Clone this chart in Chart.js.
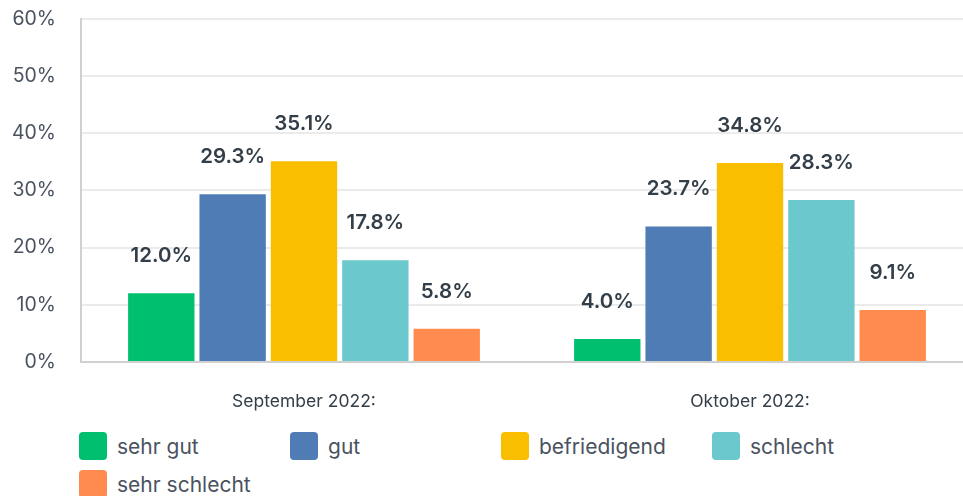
<!DOCTYPE html>
<html>
<head>
<meta charset="utf-8">
<script src="https://cdn.jsdelivr.net/npm/chart.js@4"></script>
<style>
  body { margin: 0; background: #fff; font-family: Inter, sans-serif; overflow: hidden; }
  #wrap { width: 973px; height: 440px; position: relative; margin-top: -18px; }
  #legende {
    display: grid;
    grid-template-columns: repeat(4, 211px);
    row-gap: 10px;
    padding-left: 79px;
    margin-top: 10px;
  }
  .eintrag { display: flex; align-items: center; height: 28px; color: #4a5260; font-size: 21px; }
  .kasten { width: 28px; height: 28px; border-radius: 4px; margin-right: 10px; }
</style>
</head>
<body>
<div id="wrap"><canvas id="grafik"></canvas></div>
<div id="legende"></div>
<script>
const monate = ['September 2022:', 'Oktober 2022:'];
const bewertungen = ['sehr gut', 'gut', 'befriedigend', 'schlecht', 'sehr schlecht'];
const farben = ['#00BF6F', '#507CB6', '#F9BE00', '#6BC8CD', '#FF8B4F'];
const sehrGut = [12.0, 4.0];
const gut = [29.3, 23.7];
const befriedigend = [35.1, 34.8];
const schlecht = [17.8, 28.3];
const sehrSchlecht = [5.8, 9.1];
const werte = [sehrGut, gut, befriedigend, schlecht, sehrSchlecht];

// Prozentwerte über den Balken
const wertLabels = {
    id: 'wertLabels',
    afterDatasetsDraw(chart) {
        const ctx = chart.ctx;
        ctx.save();
        ctx.font = '600 20.5px Inter, sans-serif';
        ctx.fillStyle = '#333e48';
        ctx.textAlign = 'center';
        ctx.textBaseline = 'bottom';
        chart.data.datasets.forEach((ds, i) => {
            chart.getDatasetMeta(i).data.forEach((bar, j) => {
                ctx.fillText(ds.data[j].toFixed(1) + '%', bar.x, bar.y - 27);
            });
        });
        ctx.restore();
    }
};

const ctx = document.getElementById('grafik').getContext('2d');
new Chart(ctx, {
    type: 'bar',
    data: {
        labels: monate,
        datasets: bewertungen.map((name, i) => ({
            label: name,
            data: werte[i],
            backgroundColor: farben[i],
            categoryPercentage: 0.8,
            barPercentage: 0.93
        }))
    },
    options: {
        responsive: true,
        maintainAspectRatio: false,
        animation: false,
        layout: { padding: 0 },
        plugins: {
            legend: { display: false },
            tooltip: { enabled: false }
        },
        scales: {
            y: {
                min: 0,
                max: 60,
                afterFit(scale) { scale.width = 81; },
                ticks: {
                    stepSize: 10,
                    padding: 25,
                    color: '#4a5260',
                    font: { family: 'Inter', size: 19.5 },
                    callback: v => v + '%'
                },
                grid: { color: '#ebebeb', lineWidth: 2, drawTicks: false },
                border: { color: '#d0d0d0', width: 2 }
            },
            x: {
                afterFit(scale) { scale.height = 60; },
                ticks: {
                    padding: 29,
                    color: '#333e48',
                    font: { family: 'Inter', size: 17.5 }
                },
                grid: { display: false, drawTicks: false },
                border: { color: '#d0d0d0', width: 2 }
            }
        }
    },
    plugins: [wertLabels]
});

const legende = document.getElementById('legende');
bewertungen.forEach((name, i) => {
    const e = document.createElement('div');
    e.className = 'eintrag';
    e.innerHTML = '<span class="kasten" style="background:' + farben[i] + '"></span>' + name;
    legende.appendChild(e);
});
</script>
</body>
</html>
